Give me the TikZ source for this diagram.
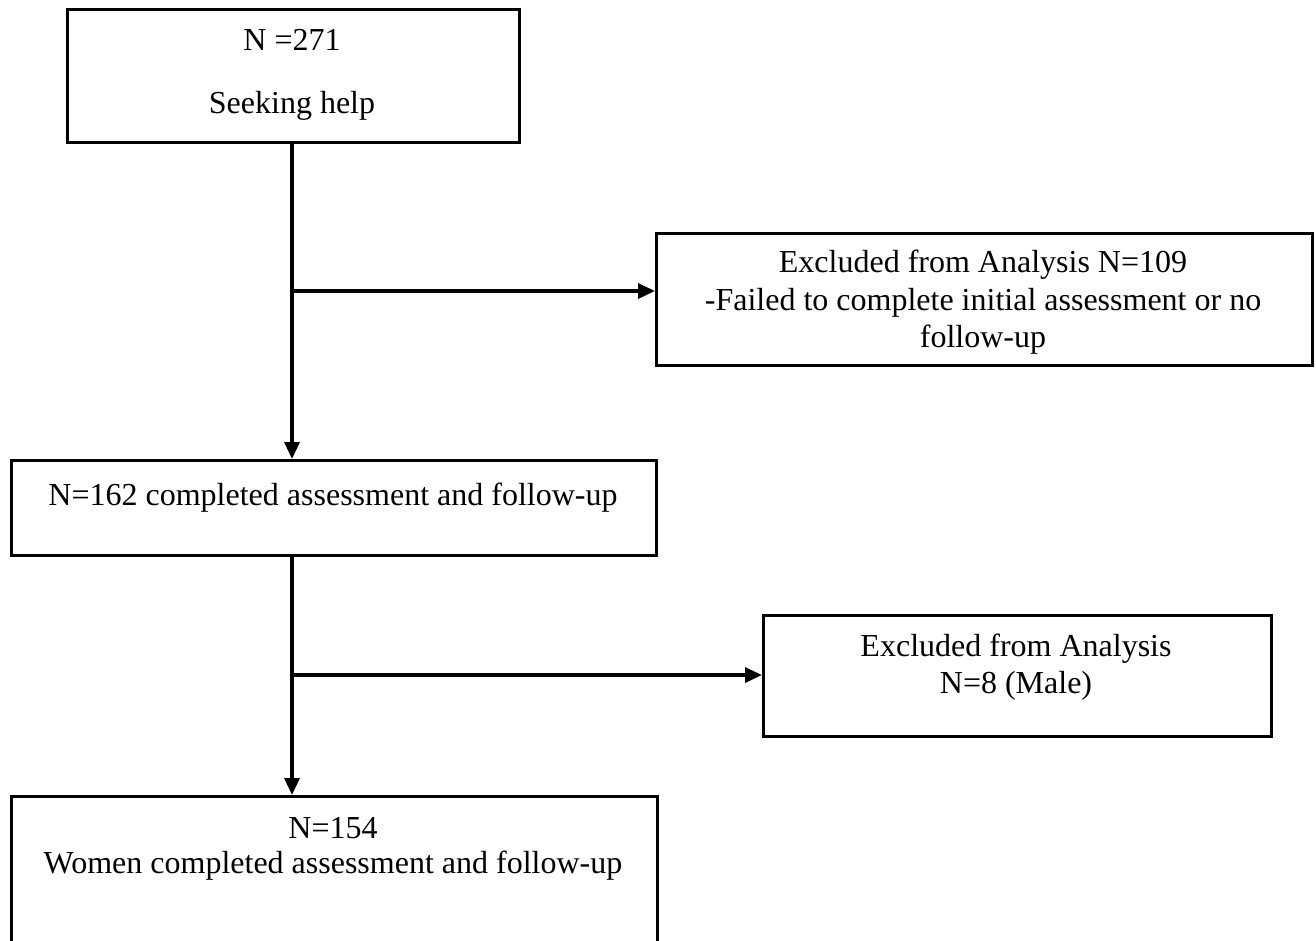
\documentclass[tikz,border=0pt]{standalone}
\usepackage{fontspec}
\setmainfont{Liberation Serif}
\usetikzlibrary{arrows.meta}
\begin{document}
\begin{tikzpicture}[x=1pt,y=-1pt,
  box/.style={draw=black,line width=3.3pt,rectangle,inner sep=0pt,anchor=north west},
  txt/.style={anchor=base,inner sep=0pt,font=\fontsize{32}{37}\selectfont},
  flow/.style={line width=3.3pt,-{Triangle[length=17pt,width=15pt]}}]
\useasboundingbox (0,0) rectangle (1316,940);
\clip (0,0) rectangle (1316,940);
% boxes (top-left corner, size)
\node[box,minimum width=452pt,minimum height=133pt] (start) at (66,8) {};
\node[box,minimum width=656pt,minimum height=132pt] (excl1) at (655,232) {};
\node[box,minimum width=645pt,minimum height=95pt] (mid) at (10,459) {};
\node[box,minimum width=508pt,minimum height=121pt] (excl2) at (762,614) {};
\node[box,minimum width=646pt,minimum height=152pt] (final) at (10,795) {};
% texts
\node[txt] (t1a) at (292,50) {N =271};
\node[txt] (t1b) at (292,113) {Seeking help};
\node[txt] (t3a) at (983,272) {Excluded from Analysis N=109};
\node[txt] (t3b) at (983,310) {-Failed to complete initial assessment or no};
\node[txt] (t3c) at (983,347) {follow-up};
\node[txt] (t2) at (333,505) {N=162 completed assessment and follow-up};
\node[txt] (t4a) at (1016,656) {Excluded from Analysis};
\node[txt] (t4b) at (1016,693) {N=8 (Male)};
\node[txt] (t5a) at (333,838) {N=154};
\node[txt] (t5b) at (333,873) {Women completed assessment and follow-up};
% branch points
\coordinate (s1) at (292,141);
\coordinate (b1) at (292,291);
\coordinate (s2) at (292,554);
\coordinate (b2) at (292,675);
% connectors
\draw[flow] (s1) -- (s1 |- mid.north);
\draw[flow] (b1) -- (b1 -| excl1.west);
\draw[flow] (s2) -- (s2 |- final.north);
\draw[flow] (b2) -- (b2 -| excl2.west);
\end{tikzpicture}
\end{document}
